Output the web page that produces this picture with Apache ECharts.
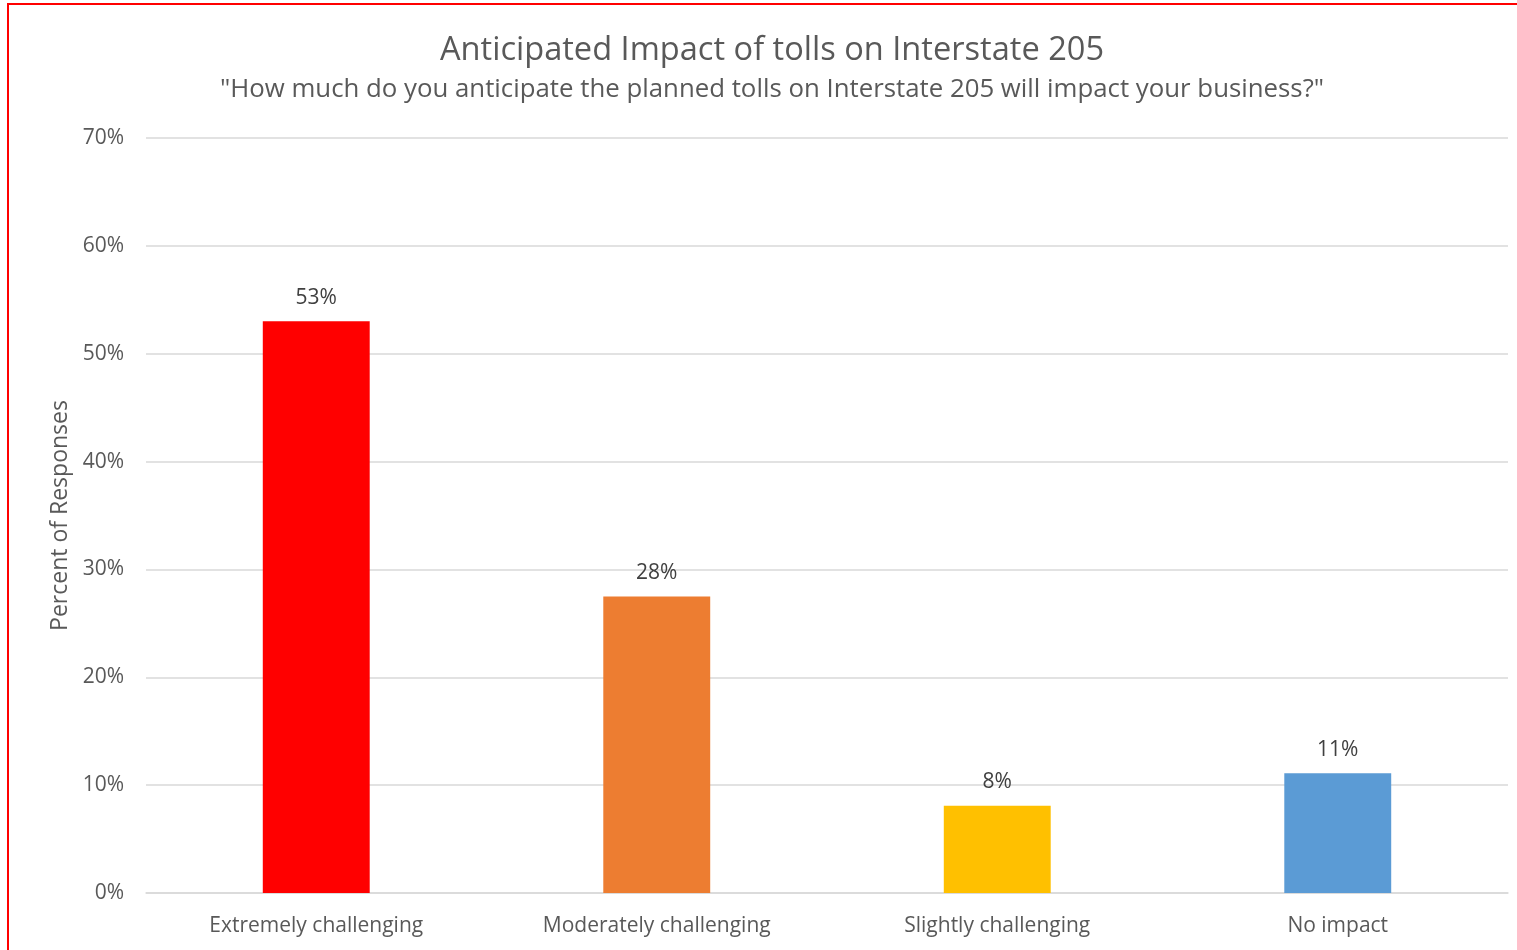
<!DOCTYPE html>
<html>
<head>
<meta charset="utf-8">
<style>
  html, body { margin: 0; padding: 0; background: #fff; overflow: hidden; }
  #frame { position: absolute; left: 7px; top: 3px; width: 1560px; height: 1000px; border: 2px solid #ff0000; box-sizing: border-box; }
  #chart { position: absolute; left: 0; top: 0; width: 1517px; height: 950px; }
</style>
<script src="https://cdn.jsdelivr.net/npm/echarts@6/dist/echarts.min.js"></script>
</head>
<body>
<div id="frame"></div>
<div id="chart"></div>
<script>
// Survey answers and their share of responses (percent)
const categories = ['Extremely challenging', 'Moderately challenging', 'Slightly challenging', 'No impact'];
const shares = [53.0, 27.5, 8.1, 11.1];
const barColors = ['#ff0000', '#ed7d31', '#ffc000', '#5b9bd5'];
const yTicks = { min: 0, max: 70, step: 10 };

const FONT = '"Open Sans", "Noto Sans", sans-serif';
const chart = echarts.init(document.getElementById('chart'), null, { renderer: 'canvas' });

chart.setOption({
  animation: false,
  textStyle: { fontFamily: FONT },
  title: [
    {
      text: 'Anticipated Impact of tolls on Interstate 205',
      left: 767, top: 29, textAlign: 'center',
      textStyle: { fontFamily: FONT, fontSize: 32.6, fontWeight: 'normal', color: '#595959' }
    },
    {
      text: '"How much do you anticipate the planned tolls on Interstate 205 will impact your business?"',
      left: 767, top: 72, textAlign: 'center',
      textStyle: { fontFamily: FONT, fontSize: 25.8, fontWeight: 'normal', color: '#595959' }
    }
  ],
  grid: { left: 146, right: 9, top: 138, bottom: 57, containLabel: false },
  xAxis: {
    type: 'category',
    data: categories,
    axisLine: { show: true, lineStyle: { color: '#d9d9d9', width: 1.5 } },
    axisTick: { show: false },
    axisLabel: { color: '#595959', fontSize: 21, fontFamily: FONT, margin: 23 }
  },
  yAxis: {
    type: 'value',
    min: yTicks.min, max: yTicks.max, interval: yTicks.step,
    name: 'Percent of Responses',
    nameLocation: 'middle',
    nameGap: 72,
    nameTextStyle: { color: '#595959', fontSize: 23, fontFamily: FONT },
    axisLine: { show: false },
    axisTick: { show: false },
    axisLabel: { color: '#595959', fontSize: 21, fontFamily: FONT, margin: 22, padding: [3, 0, 0, 0], formatter: v => v + '%' },
    splitLine: { lineStyle: { color: '#d9d9d9', width: 1.5 } }
  },
  series: [{
    type: 'bar',
    data: shares.map((v, i) => ({ value: v, itemStyle: { color: barColors[i] } })),
    barWidth: '31.4%',
    label: {
      show: true, position: 'top', distance: 13,
      color: '#404040', fontSize: 21, fontFamily: FONT,
      formatter: p => Math.round(p.value) + '%'
    }
  }]
});
</script>
</body>
</html>
